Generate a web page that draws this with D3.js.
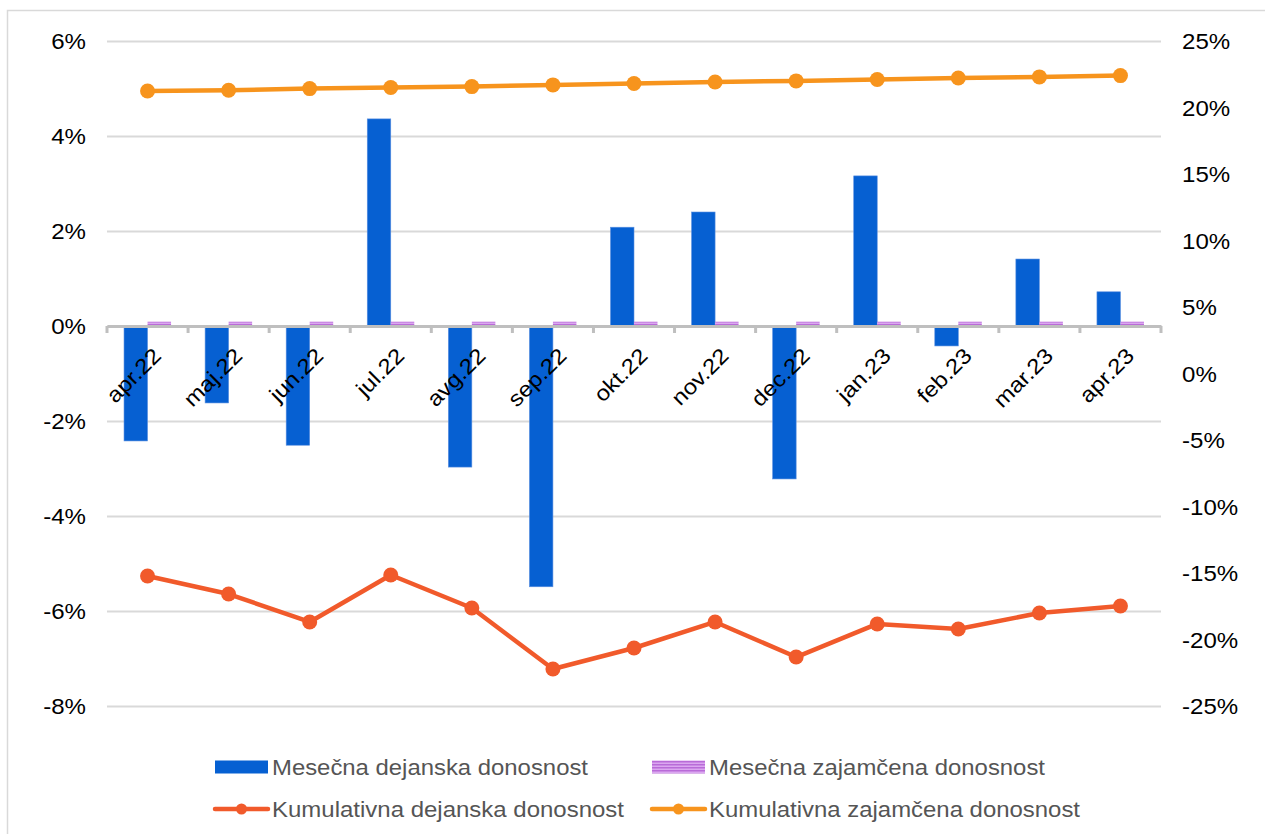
<!DOCTYPE html>
<html>
<head>
<meta charset="utf-8">
<script src="https://cdn.jsdelivr.net/npm/d3@7"></script>
<style>
  html, body { margin: 0; padding: 0; background: #ffffff; }
  svg { display: block; font-family: "Liberation Sans", Arial, sans-serif; }
</style>
</head>
<body>
<svg id="chart" width="1265" height="834"></svg>
<script>
// Months on the category axis
const months = ["apr.22", "maj.22", "jun.22", "jul.22", "avg.22", "sep.22", "okt.22",
                "nov.22", "dec.22", "jan.23", "feb.23", "mar.23", "apr.23"];

// Monthly returns (%), left axis
const monthlyActual = [-2.42, -1.62, -2.51, 4.36, -2.97, -5.49, 2.08, 2.40, -3.22, 3.16, -0.42, 1.41, 0.72];
const monthlyGuaranteed = [0.09, 0.09, 0.09, 0.09, 0.09, 0.09, 0.09, 0.09, 0.09, 0.09, 0.09, 0.09, 0.09];

// Cumulative returns (%), right axis
const cumulativeActual = [-15.23, -16.58, -18.68, -15.15, -17.63, -22.22, -20.64, -18.68, -21.32, -18.83, -19.21, -18.01, -17.48];
const cumulativeGuaranteed = [21.24, 21.3, 21.42, 21.5, 21.57, 21.7, 21.8, 21.92, 22.0, 22.1, 22.22, 22.3, 22.4];

// Tick values
const leftTicks = [-8, -6, -4, -2, 0, 2, 4, 6];
const rightTicks = [-25, -20, -15, -10, -5, 0, 5, 10, 15, 20, 25];

const legendItems = [
  { label: "Mesečna dejanska donosnost", kind: "bar", color: "#0660d2" },
  { label: "Mesečna zajamčena donosnost", kind: "pattern", color: "#c77de0" },
  { label: "Kumulativna dejanska donosnost", kind: "line", color: "#f15a2b" },
  { label: "Kumulativna zajamčena donosnost", kind: "line", color: "#f7941d" }
];

const COLORS = { blue: "#0660d2", red: "#f15a2b", orange: "#f7941d", grid: "#d9d9d9", axis: "#bfbfbf", text: "#000000", legendText: "#555555" };
const STRETCH = 1.12;

const svg = d3.select("#chart");
const plot = { left: 107, right: 1161, top: 41, bottom: 706 };

// stripe pattern for the guaranteed monthly return
const defs = svg.append("defs");
const pat = defs.append("pattern").attr("id", "stripes").attr("patternUnits", "userSpaceOnUse")
  .attr("width", 8).attr("height", 3);
pat.append("rect").attr("width", 8).attr("height", 3).attr("fill", "#dba7f0");
pat.append("rect").attr("width", 8).attr("height", 1.5).attr("fill", "#b96bd8");

// outer chart frame
svg.append("rect").attr("x", 7.5).attr("y", 10.5).attr("width", 1400).attr("height", 1000)
  .attr("fill", "#ffffff").attr("stroke", COLORS.grid).attr("stroke-width", 1.5);

const x = d3.scaleBand().domain(months).range([plot.left, plot.right]).paddingInner(0).paddingOuter(0);
const yL = d3.scaleLinear().domain([-8, 6]).range([plot.bottom, plot.top]);
const yR = d3.scaleLinear().domain([-25, 25]).range([plot.bottom, plot.top]);

// horizontal gridlines from the left axis
const gridAxis = d3.axisLeft(yL).tickValues(leftTicks).tickSize(-(plot.right - plot.left)).tickFormat("");
const grid = svg.append("g").attr("transform", `translate(${plot.left},0)`).call(gridAxis);
grid.select(".domain").remove();
grid.selectAll("line").attr("stroke", COLORS.grid).attr("stroke-width", 2);

// left axis labels
const leftAxis = svg.append("g").attr("transform", `translate(${plot.left},0)`)
  .call(d3.axisLeft(yL).tickValues(leftTicks).tickSize(0).tickPadding(0).tickFormat(d => d + "%"));
leftAxis.select(".domain").remove();
leftAxis.selectAll("text")
  .attr("x", 0).attr("dy", "0.36em")
  .attr("font-size", 21.5).attr("fill", COLORS.text).attr("font-family", "Liberation Sans, Arial, sans-serif")
  .attr("text-anchor", "end")
  .attr("transform", `translate(-21,0) scale(${STRETCH},1)`);

// right axis labels
const rightAxis = svg.append("g").attr("transform", `translate(${plot.right},0)`)
  .call(d3.axisRight(yR).tickValues(rightTicks).tickSize(0).tickPadding(0).tickFormat(d => d + "%"));
rightAxis.select(".domain").remove();
rightAxis.selectAll("text")
  .attr("x", 0).attr("dy", "0.36em")
  .attr("font-size", 21.5).attr("fill", COLORS.text).attr("font-family", "Liberation Sans, Arial, sans-serif")
  .attr("text-anchor", "start")
  .attr("transform", `translate(21,0) scale(${STRETCH},1)`);

// bars
const bw = x.bandwidth() * 0.29;
svg.append("g").selectAll("rect").data(months).join("rect")
  .attr("x", (d) => x(d) + x.bandwidth() / 2 - bw)
  .attr("width", bw)
  .attr("y", (d, i) => yL(Math.max(0, monthlyActual[i])))
  .attr("height", (d, i) => Math.abs(yL(monthlyActual[i]) - yL(0)))
  .attr("fill", COLORS.blue).attr("stroke", "#5b8fe0").attr("stroke-width", 0.6);

svg.append("g").selectAll("rect").data(months).join("rect")
  .attr("x", (d) => x(d) + x.bandwidth() / 2)
  .attr("width", bw)
  .attr("y", (d, i) => yL(Math.max(0, monthlyGuaranteed[i])))
  .attr("height", (d, i) => Math.abs(yL(monthlyGuaranteed[i]) - yL(0)))
  .attr("fill", "url(#stripes)");

// category axis along zero
const catAxis = svg.append("g").attr("transform", `translate(0,${yL(0)})`)
  .call(d3.axisBottom(x).tickSize(0).tickFormat(d => d));
catAxis.select(".domain").attr("stroke", COLORS.axis).attr("stroke-width", 3);
// boundary tick marks between categories
const bounds = months.map(m => x(m)).concat([plot.right]);
catAxis.selectAll(".bound").data(bounds).join("line").attr("class", "bound")
  .attr("x1", d => d).attr("x2", d => d).attr("y1", 0).attr("y2", 7)
  .attr("stroke", COLORS.axis).attr("stroke-width", 3);
catAxis.selectAll(".tick text")
  .attr("font-size", 21.5).attr("fill", COLORS.text).attr("font-family", "Liberation Sans, Arial, sans-serif")
  .attr("text-anchor", "end").attr("y", 0).attr("dy", 0)
  .attr("transform", `translate(15,31) rotate(-45) scale(${STRETCH},1)`);

// cumulative lines on the right axis
const line = d3.line().x((d, i) => x(months[i]) + x.bandwidth() / 2).y(d => yR(d));
function drawSeries(values, color) {
  const g = svg.append("g");
  g.append("path").datum(values).attr("d", line).attr("fill", "none")
    .attr("stroke", color).attr("stroke-width", 4.5).attr("stroke-linejoin", "round");
  g.selectAll("circle").data(values).join("circle")
    .attr("cx", (d, i) => x(months[i]) + x.bandwidth() / 2).attr("cy", d => yR(d))
    .attr("r", 7.5).attr("fill", color);
}
drawSeries(cumulativeGuaranteed, COLORS.orange);
drawSeries(cumulativeActual, COLORS.red);

// legend
const legendPos = [
  { x: 215, y: 767 }, { x: 652, y: 767 },
  { x: 215, y: 809 }, { x: 652, y: 809 }
];
const textWidths = [316, 336, 352, 371];
const lg = svg.append("g");
legendItems.forEach((it, i) => {
  const p = legendPos[i];
  const g = lg.append("g").attr("transform", `translate(${p.x},${p.y})`);
  if (it.kind === "bar") {
    g.append("rect").attr("x", 0).attr("y", -6.5).attr("width", 53).attr("height", 13).attr("fill", it.color);
  } else if (it.kind === "pattern") {
    g.append("rect").attr("x", 0).attr("y", -6.5).attr("width", 53).attr("height", 13).attr("fill", "url(#stripes)");
  } else {
    g.append("line").attr("x1", 0).attr("x2", 53).attr("y1", 0).attr("y2", 0)
      .attr("stroke", it.color).attr("stroke-width", 4.5).attr("stroke-linecap", "round");
    g.append("circle").attr("cx", 26.5).attr("cy", 0).attr("r", 5.5).attr("fill", it.color);
  }
  g.append("text").attr("x", 57).attr("y", 8).text(it.label)
    .attr("font-size", 22).attr("fill", COLORS.legendText)
    .attr("textLength", textWidths[i]).attr("lengthAdjust", "spacingAndGlyphs");
});
</script>
</body>
</html>
